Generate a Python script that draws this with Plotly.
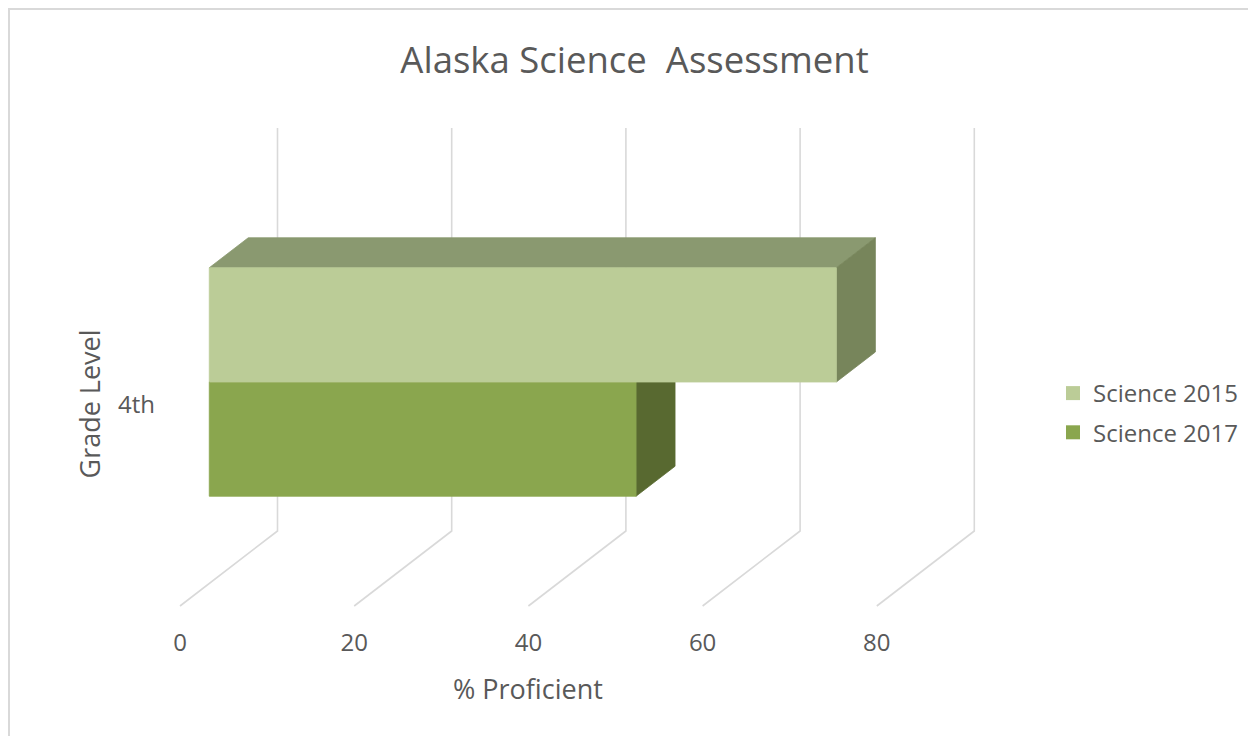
import plotly.graph_objects as go

# ---------------- data ----------------
categories = ["4th"]
series_names = ["Science 2015", "Science 2017"]
science_2015 = [72]
science_2017 = [49]
x_ticks = [0, 20, 40, 60, 80]
x_tick_labels = ["0", "20", "40", "60", "80"]

# ---------------- styling / geometry ----------------
OFF = 8                      # body margin of the html page
W, H = 1240, 728
FRONT_X0 = 180.0             # page px of value 0 on front floor
PX_PER_UNIT = 8.71
FLOOR_Y = 606.0
WALL_H = 403.0
DEPTH_DX_PX, DEPTH_DY_PX = 97.5, 75.0
L, R, T, B = 160.0, 1000.0, 115.0, 624.0

DX = DEPTH_DX_PX / PX_PER_UNIT      # full depth offset in value units
DY = DEPTH_DY_PX / WALL_H           # full depth offset in wall units
D0, D1 = 0.3, 0.7                    # bar depth extent
BAR_HALF = 0.2835                    # bar thickness in wall units

x_lo = (L - FRONT_X0) / PX_PER_UNIT
x_hi = (R - FRONT_X0) / PX_PER_UNIT
y_lo = (FLOOR_Y - B) / WALL_H
y_hi = (FLOOR_Y - T) / WALL_H


def px(xp):
    return (xp - L) / (R - L)


def py(yp):
    return (B - yp) / (B - T)


TEXT = "#595959"
FONT = "Open Sans"
GRID = "#D9D9D9"
colors = {
    "Science 2015": {"front": "#BBCC97", "top": "#8A9970", "side": "#77855B"},
    "Science 2017": {"front": "#8AA64E", "top": "#6E8540", "side": "#586930"},
}

fig = go.Figure()

# gridlines: floor diagonals + back wall verticals
gx, gy = [], []
for t in x_ticks:
    gx += [t, t + DX, t + DX, None]
    gy += [0, DY, 1 + DY, None]
fig.add_trace(go.Scatter(x=gx, y=gy, mode="lines", line=dict(color=GRID, width=1.6),
                         hoverinfo="skip", showlegend=False))


def add_bar(value, lo, hi, c):
    ox0, oy0, ox1, oy1 = DX * D0, DY * D0, DX * D1, DY * D1
    faces = [
        ("top", [ox0, value + ox0, value + ox1, ox1], [hi + oy0, hi + oy0, hi + oy1, hi + oy1]),
        ("side", [value + ox0, value + ox1, value + ox1, value + ox0], [lo + oy0, lo + oy1, hi + oy1, hi + oy0]),
        ("front", [ox0, value + ox0, value + ox0, ox0], [lo + oy0, lo + oy0, hi + oy0, hi + oy0]),
    ]
    for name, xs, ys in faces:
        fig.add_trace(go.Scatter(x=xs + [xs[0]], y=ys + [ys[0]], mode="lines", fill="toself",
                                 fillcolor=c[name], line=dict(color=c[name], width=0.8),
                                 hoverinfo="skip", showlegend=False))


center = 0.5
for i, cat in enumerate(categories):
    # draw 2017 (lower) first, then 2015 on top
    add_bar(science_2017[i], center - BAR_HALF, center, colors["Science 2017"])
    add_bar(science_2015[i], center, center + BAR_HALF, colors["Science 2015"])

# legend entries
for k, name in enumerate(series_names):
    fig.add_trace(go.Scatter(x=[None], y=[None], mode="markers", name=name,
                             legendgroup=name,
                             marker=dict(symbol="square", size=14, color=colors[name]["front"])))

fig.update_layout(
    width=W, height=H,
    margin=dict(l=L - OFF, r=OFF + W - R, t=T - OFF, b=OFF + H - B, autoexpand=False),
    paper_bgcolor="white", plot_bgcolor="white",
    font=dict(family=FONT, color=TEXT, size=24),
    title=dict(text="Alaska Science  Assessment", x=(634.5 - OFF) / W, xanchor="center",
               y=1 - (60 - OFF) / H, yanchor="middle", xref="container", yref="container",
               font=dict(family=FONT, size=36.5, color=TEXT)),
    xaxis=dict(range=[x_lo, x_hi], tickvals=x_ticks, ticktext=x_tick_labels, showgrid=False,
               zeroline=False, showline=False, ticks="", automargin=False,
               tickfont=dict(size=24, color=TEXT), ticklabelstandoff=2, fixedrange=True),
    yaxis=dict(range=[y_lo, y_hi], tickvals=[center], ticktext=categories, showgrid=False,
               zeroline=False, showline=False, ticks="", automargin=False,
               tickfont=dict(size=24, color=TEXT), ticklabelstandoff=4, fixedrange=True),
    legend=dict(x=px(1053), y=py(371), xanchor="left", yanchor="top", font=dict(size=24, color=TEXT),
                tracegroupgap=5, itemsizing="trace", bgcolor="rgba(0,0,0,0)"),
    annotations=[
        dict(text="% Proficient", x=px(528), y=py(688), xref="paper", yref="paper",
             showarrow=False, xanchor="center", yanchor="middle", font=dict(size=27, color=TEXT)),
        dict(text="Grade Level", x=px(89), y=py(404.5), xref="paper", yref="paper", textangle=-90,
             showarrow=False, xanchor="center", yanchor="middle", font=dict(size=27, color=TEXT)),
    ],
    shapes=[
        dict(type="line", xref="paper", yref="paper", x0=px(OFF), x1=px(OFF + W), y0=py(OFF + 1), y1=py(OFF + 1),
             line=dict(color="#D9D9D9", width=2)),
        dict(type="line", xref="paper", yref="paper", x0=px(OFF + 1), x1=px(OFF + 1), y0=py(OFF), y1=py(OFF + H),
             line=dict(color="#D9D9D9", width=2)),
    ],
)

fig.write_html("out.html")
